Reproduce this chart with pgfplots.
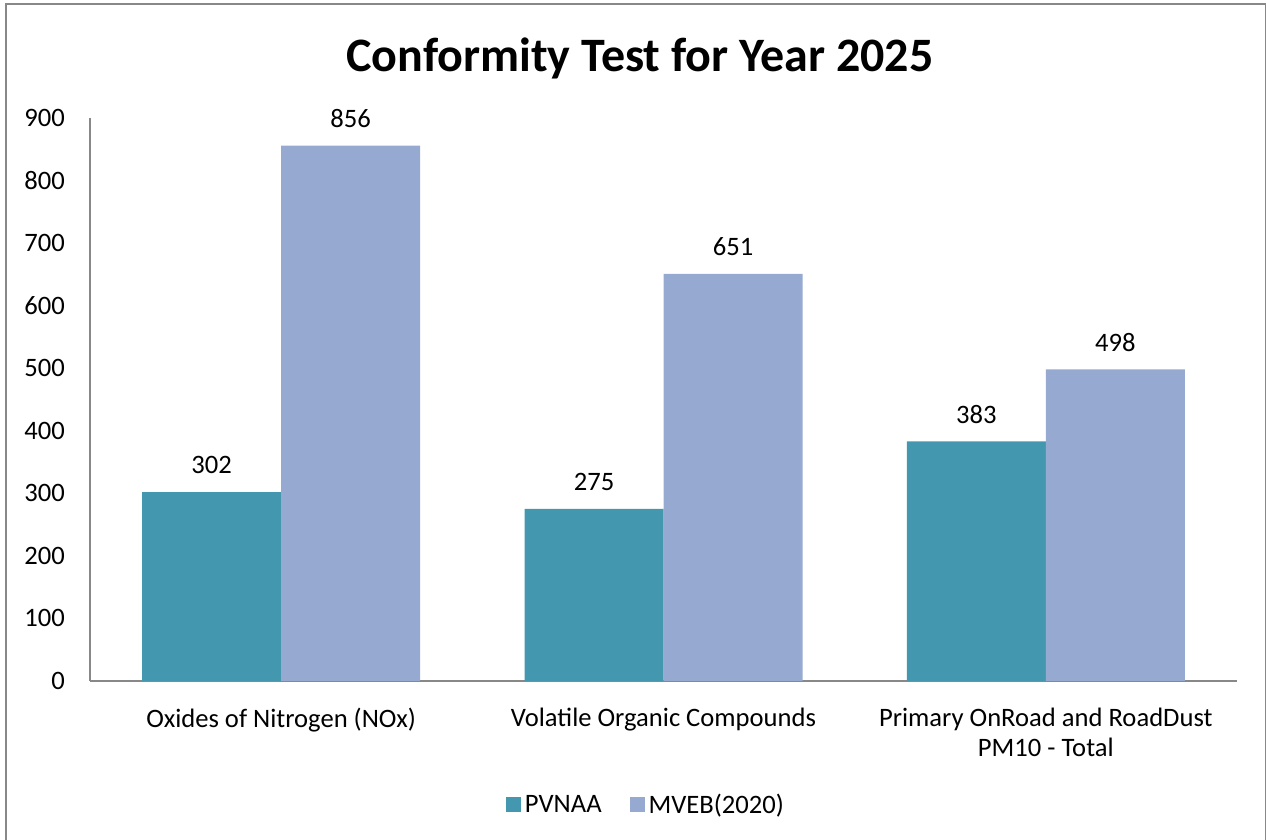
\documentclass[border=0pt]{standalone}
\usepackage{pgfplots}
\pgfplotsset{compat=1.18}
\usepackage{fontspec}
\setmainfont{Carlito}
\definecolor{cA}{HTML}{4398B0}
\definecolor{cB}{HTML}{95A9D1}
\definecolor{axg}{HTML}{888888}
\begin{document}
\begin{tikzpicture}
\useasboundingbox (-45pt,-79.5pt) rectangle (588pt,340.5pt);
\begin{scope}
\clip (-45pt,-79.5pt) rectangle (588pt,340.5pt);
\draw[axg, line width=1pt] (-41.75pt,-82pt) rectangle (587.75pt,338.25pt);
\end{scope}
\begin{axis}[
  at={(0pt,0pt)}, anchor=south west,
  scale only axis, width=573.5pt, height=281.5pt,
  xmin=-0.5, xmax=2.5, ymin=0, ymax=900,
  ytick={0,100,...,900},
  xtick=data,
  xticklabels={Oxides of Nitrogen (NOx), Volatile Organic Compounds, {Primary OnRoad and RoadDust\\PM10 - Total}},
  xticklabel style={align=center, font=\fontsize{13.3}{15}\selectfont, yshift=-10pt},
  yticklabel style={font=\fontsize{13.3}{15}\selectfont, xshift=-9pt},
  /pgf/number format/assume math mode=true,
  major tick length=0pt,
  axis x line*=bottom, axis y line*=left,
  axis line style={axg, line width=1pt, -},
  x axis line style={-}, y axis line style={-},
  ybar, bar width=69.5pt,
  nodes near coords,
  nodes near coords style={font=\fontsize{13.3}{15}\selectfont, black, yshift=5.5pt},
  title={\bfseries Conformity Test for Year 2025},
  title style={font=\fontsize{24}{28}\selectfont, at={(275pt,305.5pt)}, anchor=center},
  legend style={at={(278.5pt,-62pt)}, anchor=center, draw=none, legend columns=2,
    font=\fontsize{13.3}{15}\selectfont, /tikz/every even column/.append style={column sep=12pt}},
  legend image code/.code={\fill[#1] (0pt,-3.5pt) rectangle (7.5pt,4pt);},
  clip=false,
]
\addplot[fill=cA, draw=none, bar shift=-34.75pt] coordinates {(0,302) (1,275) (2,383)};
\addplot[fill=cB, draw=none, bar shift=34.75pt] coordinates {(0,856) (1,651) (2,498)};
\legend{PVNAA, MVEB(2020)}
\end{axis}
\end{tikzpicture}
\end{document}
